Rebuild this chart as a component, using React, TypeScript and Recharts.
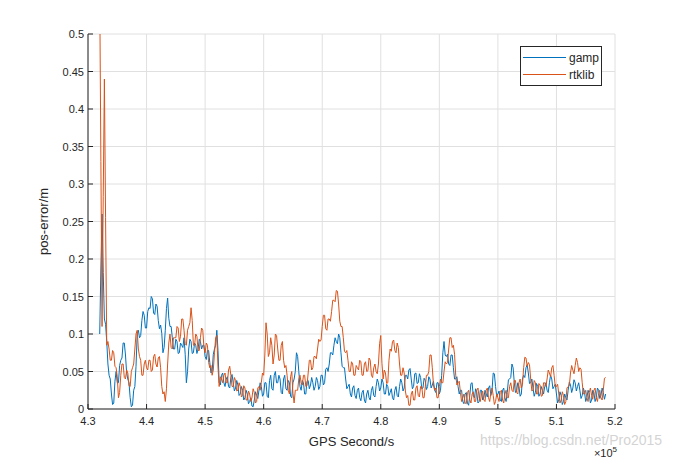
import React from 'react';
import { LineChart, Line, XAxis, YAxis, CartesianGrid, Legend } from 'recharts';

// sampling grid of the two solutions (GPS seconds)
const startTime = 432000;
const stepSeconds = 200;

const xTicks = [430000, 440000, 450000, 460000, 470000, 480000, 490000, 500000, 510000, 520000];
const yTicks = [0, 0.05, 0.1, 0.15, 0.2, 0.25, 0.3, 0.35, 0.4, 0.45, 0.5];

// position error in millimetres, one value per epoch
const gampMm = [
  100, 188, 260, 182, 120, 113, 90, 60, 45, 40,
  20, 6, 8, 37, 50, 35, 35, 58, 65, 68,
  88, 88, 72, 48, 40, 35, 15, 3, 5, 25,
  30, 57, 100, 105, 95, 98, 118, 130, 125, 108,
  108, 130, 135, 134, 150, 147, 128, 126, 140, 137,
  118, 107, 112, 101, 75, 82, 105, 134, 148, 121,
  110, 110, 95, 80, 80, 93, 90, 74, 75, 88,
  85, 82, 95, 73, 35, 50, 80, 93, 90, 74,
  75, 88, 85, 74, 80, 93, 90, 80, 85, 85,
  70, 66, 78, 78, 62, 48, 50, 73, 80, 85,
  105, 78, 35, 32, 45, 48, 35, 30, 40, 43,
  30, 28, 42, 46, 35, 24, 28, 38, 32, 18,
  20, 30, 25, 12, 15, 25, 20, 7, 10, 15,
  4, 3, 12, 23, 18, 14, 25, 35, 30, 17,
  20, 35, 35, 17, 15, 38, 45, 27, 25, 45,
  50, 35, 35, 45, 40, 22, 20, 40, 45, 27,
  25, 38, 35, 17, 15, 35, 40, 50, 75, 70,
  50, 30, 25, 38, 35, 20, 20, 37, 38, 27,
  32, 42, 35, 25, 30, 42, 38, 26, 30, 45,
  45, 32, 35, 53, 55, 50, 60, 75, 75, 72,
  85, 95, 90, 87, 100, 95, 75, 57, 55, 55,
  40, 27, 30, 33, 20, 16, 28, 31, 18, 14,
  25, 28, 15, 11, 22, 25, 12, 8, 20, 25,
  15, 12, 25, 30, 18, 16, 30, 40, 35, 24,
  28, 40, 35, 20, 20, 33, 30, 18, 22, 27,
  15, 12, 25, 30, 18, 16, 30, 40, 35, 24,
  28, 45, 45, 40, 52, 54, 40, 27, 30, 47,
  48, 34, 35, 47, 42, 27, 28, 41, 38, 26,
  30, 43, 40, 28, 32, 37, 25, 22, 35, 35,
  20, 25, 45, 75, 90, 72, 70, 73, 60, 58,
  72, 72, 55, 40, 40, 43, 30, 20, 25, 25,
  10, 7, 20, 22, 8, 5, 18, 34, 35, 17,
  15, 27, 22, 8, 10, 25, 25, 12, 15, 25,
  20, 16, 28, 31, 18, 25, 48, 47, 30, 17,
  20, 24, 12, 10, 25, 28, 15, 10, 22, 39,
  40, 42, 60, 55, 35, 22, 25, 35, 30, 17,
  20, 40, 45, 42, 55, 59, 48, 34, 35, 40,
  28, 17, 22, 34, 30, 17, 20, 30, 25, 20,
  30, 35, 25, 22, 35, 45, 40, 27, 30, 33,
  20, 8, 12, 23, 18, 6, 10, 20, 15, 12,
  25, 36, 32, 22, 28, 39, 35, 24, 30, 35,
  25, 14, 18, 28, 22, 10, 15, 25, 20, 8,
  12, 25, 22, 10, 15, 28, 25, 14, 18, 28,
  22, 13, 20,
];

const rtklibMm = [
  560, 330, 110, 283, 440, 255, 85, 90, 80, 65,
  65, 78, 75, 57, 55, 43, 15, 22, 45, 60,
  60, 42, 40, 52, 48, 31, 30, 50, 55, 60,
  80, 100, 105, 80, 70, 65, 45, 45, 60, 65,
  55, 52, 65, 65, 50, 52, 70, 73, 60, 56,
  68, 70, 55, 30, 20, 23, 10, 27, 60, 88,
  100, 82, 80, 95, 95, 95, 110, 108, 90, 97,
  120, 120, 105, 87, 85, 105, 110, 115, 135, 118,
  85, 85, 100, 97, 78, 78, 95, 108, 105, 82,
  75, 88, 85, 62, 55, 58, 45, 52, 75, 95,
  98, 56, 30, 43, 40, 35, 45, 48, 35, 35,
  52, 57, 45, 30, 30, 42, 38, 24, 25, 35,
  30, 16, 18, 31, 28, 12, 12, 24, 20, 10,
  15, 27, 22, 8, 10, 28, 30, 25, 35, 48,
  45, 72, 115, 100, 70, 75, 95, 85, 60, 72,
  100, 98, 80, 65, 65, 85, 90, 65, 55, 58,
  45, 25, 20, 43, 50, 21, 8, 25, 25, 25,
  40, 45, 35, 32, 45, 45, 30, 31, 48, 65,
  65, 52, 55, 70, 70, 67, 80, 93, 90, 92,
  110, 125, 125, 107, 105, 120, 120, 117, 130, 145,
  145, 143, 158, 157, 140, 117, 110, 110, 95, 77,
  75, 78, 65, 50, 50, 63, 60, 45, 45, 58,
  55, 52, 65, 63, 45, 45, 60, 63, 50, 51,
  68, 65, 45, 42, 55, 60, 50, 47, 60, 87,
  98, 61, 40, 52, 48, 34, 35, 65, 80, 77,
  90, 92, 78, 75, 88, 82, 60, 45, 45, 55,
  48, 24, 15, 18, 5, 5, 20, 24, 12, 12,
  28, 31, 18, 16, 30, 30, 15, 15, 30, 45,
  45, 50, 72, 72, 55, 32, 25, 28, 15, 15,
  30, 40, 35, 35, 50, 63, 60, 62, 80, 95,
  95, 82, 85, 73, 45, 32, 35, 37, 22, 10,
  15, 20, 8, 7, 22, 25, 12, 8, 20, 23,
  10, 10, 25, 28, 15, 10, 20, 24, 12, 10,
  25, 28, 15, 10, 22, 28, 18, 6, 10, 20,
  15, 10, 22, 25, 12, 8, 20, 25, 15, 15,
  30, 35, 25, 23, 38, 38, 22, 20, 35, 40,
  28, 33, 55, 69, 68, 57, 62, 59, 40, 24,
  25, 38, 35, 20, 20, 34, 32, 17, 18, 35,
  35, 30, 40, 52, 48, 43, 55, 58, 45, 30,
  30, 33, 20, 8, 12, 23, 18, 6, 10, 28,
  30, 31, 48, 58, 52, 47, 58, 68, 62, 50,
  55, 53, 35, 20, 20, 25, 15, 10, 22, 28,
  18, 13, 25, 28, 15, 10, 20, 25, 15, 12,
  25, 41, 42,
];

const data = gampMm.map((g, i) => ({
  t: startTime + i * stepSeconds,
  gamp: g / 1000,
  rtklib: rtklibMm[i] / 1000,
}));

const font = '"Liberation Sans", Arial, Helvetica, sans-serif';
const ink = '#262626';

const fmtX = (v: number) => String(Number((v / 1e5).toFixed(1)));
const fmtY = (v: number) => String(Number(v.toFixed(2)));

// MATLAB style ticks: marks point into the box
const BottomTick = ({ x, y, payload }: any) => (
  <g>
    <line x1={x} y1={y} x2={x} y2={y - 5} stroke={ink} />
    <text x={x} y={y + 16} textAnchor="middle" fontSize={11} fill={ink} fontFamily={font}>
      {fmtX(payload.value)}
    </text>
  </g>
);
const TopTick = ({ x, y }: any) => <line x1={x} y1={y} x2={x} y2={y + 5} stroke={ink} />;
const LeftTick = ({ x, y, payload }: any) => (
  <g>
    <line x1={x} y1={y} x2={x + 5} y2={y} stroke={ink} />
    <text x={x - 4} y={y + 4} textAnchor="end" fontSize={11} fill={ink} fontFamily={font}>
      {fmtY(payload.value)}
    </text>
  </g>
);
const RightTick = ({ x, y }: any) => <line x1={x} y1={y} x2={x - 5} y2={y} stroke={ink} />;

const XLabel = ({ viewBox }: any) => {
  const { x, y, width } = viewBox;
  return (
    <g fontFamily={font} fill={ink}>
      <text x={x + width / 2} y={y + 37} textAnchor="middle" fontSize={13}>
        GPS Second/s
      </text>
      <text x={x + width + 2} y={y + 48} textAnchor="end" fontSize={11}>
        ×10<tspan dy={-5} fontSize={8}>5</tspan>
      </text>
    </g>
  );
};

const YLabel = ({ viewBox }: any) => {
  const cx = viewBox.x + 48;
  const cy = viewBox.y + viewBox.height / 2;
  return (
    <text x={cx} y={cy} transform={`rotate(-90 ${cx} ${cy})`} textAnchor="middle" fontSize={13} fill={ink} fontFamily={font}>
      pos-error/m
    </text>
  );
};

const LegendBox = ({ payload }: any) => (
  <div style={{ border: `1px solid ${ink}`, background: '#fff', padding: '2px 0', fontFamily: font, fontSize: 12, color: ink }}>
    {(payload || []).map((p: any) => (
      <div key={p.value} style={{ display: 'flex', alignItems: 'center', height: 17 }}>
        <span style={{ display: 'inline-block', width: 43, marginLeft: 2, marginRight: 3, borderTop: `1px solid ${p.color}` }} />
        <span>{p.value}</span>
      </div>
    ))}
  </div>
);

export default function App() {
  return (
    <div style={{ position: 'absolute', left: 0, top: 0, width: 680, height: 459, background: '#fff' }}>
      <LineChart width={680} height={459} data={data} margin={{ top: 34, right: 65, bottom: 0, left: 0 }}>
        <CartesianGrid stroke="#e0e0e0" />
        <XAxis
          dataKey="t"
          type="number"
          domain={[430000, 520000]}
          ticks={xTicks}
          allowDataOverflow
          height={50}
          tickSize={0}
          tickMargin={0}
          tickLine={false}
          axisLine={{ stroke: ink }}
          tick={<BottomTick />}
          label={<XLabel />}
        />
        <XAxis
          xAxisId="top"
          orientation="top"
          type="number"
          domain={[430000, 520000]}
          ticks={xTicks}
          allowDataOverflow
          height={0}
          tickSize={0}
          tickMargin={0}
          tickLine={false}
          axisLine={{ stroke: ink }}
          tick={<TopTick />}
        />
        <YAxis
          type="number"
          domain={[0, 0.5]}
          ticks={yTicks}
          allowDataOverflow
          width={88}
          tickSize={0}
          tickMargin={0}
          tickLine={false}
          axisLine={{ stroke: ink }}
          tick={<LeftTick />}
          label={<YLabel />}
        />
        <YAxis
          yAxisId="right"
          orientation="right"
          type="number"
          domain={[0, 0.5]}
          ticks={yTicks}
          allowDataOverflow
          width={0}
          tickSize={0}
          tickMargin={0}
          tickLine={false}
          axisLine={{ stroke: ink }}
          tick={<RightTick />}
        />
        <Legend
          layout="vertical"
          align="center"
          verticalAlign="middle"
          content={<LegendBox />}
          wrapperStyle={{ left: 520, top: 46, width: 82 }}
        />
        <Line type="linear" dataKey="gamp" name="gamp" stroke="#0072BD" strokeWidth={1} dot={false} isAnimationActive={false} />
        <Line type="linear" dataKey="rtklib" name="rtklib" stroke="#D95319" strokeWidth={1} dot={false} isAnimationActive={false} />
      </LineChart>
      <div
        style={{
          position: 'absolute',
          left: 480,
          top: 432,
          fontFamily: font,
          fontSize: 14,
          color: 'rgba(200,200,200,0.8)',
          whiteSpace: 'nowrap',
        }}
      >
        https://blog.csdn.net/Pro2015
      </div>
    </div>
  );
}
